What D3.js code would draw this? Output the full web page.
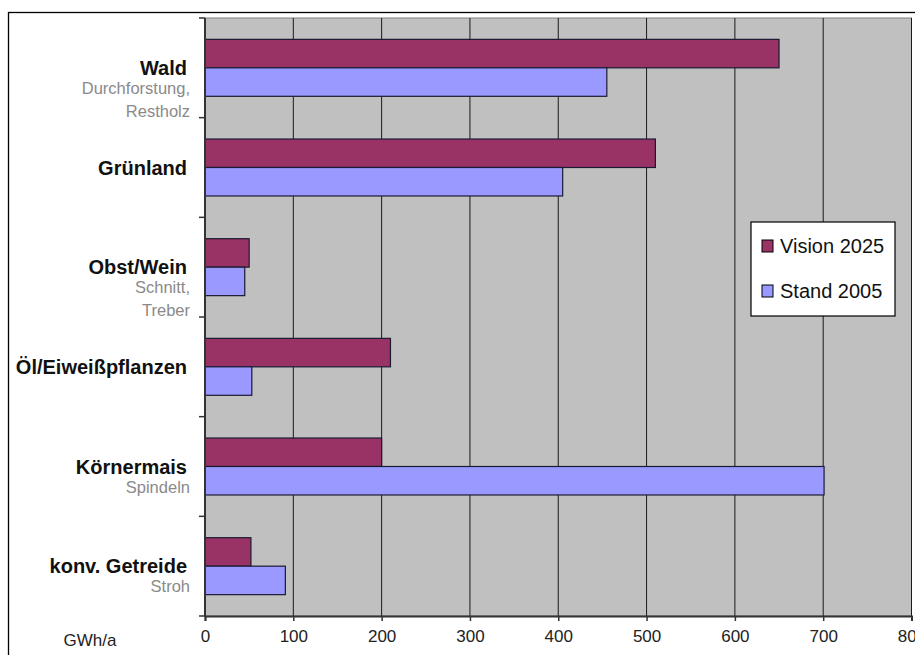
<!DOCTYPE html>
<html>
<head>
<meta charset="utf-8">
<script src="https://cdn.jsdelivr.net/npm/d3@7"></script>
<style>
  body { margin: 0; background: #fff; }
  text { font-family: "Liberation Sans", Arial, sans-serif; }
</style>
</head>
<body>
<div id="chart"></div>
<script>
// Daten (GWh/a)
const categories = ["Wald", "Grünland", "Obst/Wein", "Öl/Eiweißpflanzen", "Körnermais", "konv. Getreide"];
const subLabels = [["Durchforstung,", "Restholz"], [], ["Schnitt,", "Treber"], [], ["Spindeln"], ["Stroh"]];
const seriesNames = ["Vision 2025", "Stand 2005"];
const vision2025 = [650, 510, 50, 210, 200, 52];
const stand2005 = [455, 405, 45, 53, 701, 91];
const xTicks = [0, 100, 200, 300, 400, 500, 600, 700, 800];
const unitLabel = "GWh/a";

const colors = { "Vision 2025": "#993366", "Stand 2005": "#9999ff" };

const W = 915, H = 655;
const plot = { left: 205, top: 18, right: 911.5, bottom: 616 };

const svg = d3.select("#chart").append("svg")
    .attr("width", W)
    .attr("height", H);

// äusserer Rahmen
svg.append("rect")
    .attr("x", 8.5).attr("y", 12.5)
    .attr("width", W + 20).attr("height", H + 20)
    .attr("fill", "#fff")
    .attr("stroke", "#000")
    .attr("stroke-width", 1.3);

const x = d3.scaleLinear().domain([0, 800]).range([plot.left, plot.right]);
const y0 = d3.scaleBand().domain(categories).range([plot.top, plot.bottom]).padding(0);
const y1 = d3.scaleBand().domain(seriesNames).range([0, y0.bandwidth()])
    .paddingInner(0).paddingOuter(0.75);

// Hintergrund
svg.append("rect")
    .attr("x", plot.left).attr("y", plot.top)
    .attr("width", plot.right - plot.left)
    .attr("height", plot.bottom - plot.top)
    .attr("fill", "#c0c0c0")
    .attr("stroke", "#808080");

// Gitterlinien
svg.append("g")
    .selectAll("line")
    .data(xTicks.slice(1))
    .join("line")
    .attr("x1", d => x(d)).attr("x2", d => x(d))
    .attr("y1", plot.top).attr("y2", plot.bottom)
    .attr("stroke", "#1a1a1a")
    .attr("stroke-width", 1);

// Balken
const table = categories.map((c, i) => ({
    cat: c,
    values: [
        { key: "Vision 2025", value: vision2025[i] },
        { key: "Stand 2005", value: stand2005[i] }
    ]
}));

svg.append("g")
    .selectAll("g")
    .data(table)
    .join("g")
    .attr("transform", d => `translate(0,${y0(d.cat)})`)
    .selectAll("rect")
    .data(d => d.values)
    .join("rect")
    .attr("x", x(0))
    .attr("y", d => y1(d.key))
    .attr("width", d => x(d.value) - x(0))
    .attr("height", y1.bandwidth())
    .attr("fill", d => colors[d.key])
    .attr("stroke", "#1a1a33")
    .attr("stroke-width", 1.2);

// Achsen
const xAxis = d3.axisBottom(x).tickValues(xTicks).tickSize(5).tickPadding(9);
const gx = svg.append("g")
    .attr("transform", `translate(0,${plot.bottom})`)
    .call(xAxis);
gx.select(".domain").attr("stroke", "#333").attr("stroke-width", 2);
gx.selectAll(".tick line").attr("stroke", "#333").attr("stroke-width", 1.5);
gx.selectAll(".tick text")
    .attr("font-size", 17)
    .attr("fill", "#222")
    .style("font-family", "'Liberation Sans', Arial, sans-serif");

const yBounds = d3.range(categories.length + 1).map(i => plot.top + i * y0.step());
const gy = svg.append("g");
gy.append("line")
    .attr("x1", plot.left).attr("x2", plot.left)
    .attr("y1", plot.top).attr("y2", plot.bottom)
    .attr("stroke", "#333").attr("stroke-width", 2);
gy.selectAll("line.tick")
    .data(yBounds)
    .join("line")
    .attr("class", "tick")
    .attr("x1", plot.left - 6).attr("x2", plot.left)
    .attr("y1", d => d).attr("y2", d => d)
    .attr("stroke", "#333").attr("stroke-width", 1.5);

// Kategorie-Beschriftungen
const labels = svg.append("g");
categories.forEach((c, i) => {
    const cy = y0(c) + y0.bandwidth() / 2;
    labels.append("text")
        .attr("x", 187)
        .attr("y", cy + 7)
        .attr("text-anchor", "end")
        .attr("font-size", 20)
        .attr("font-weight", "bold")
        .attr("fill", "#111")
        .text(c);
    const offs = [26, 49];
    subLabels[i].forEach((s, j) => {
        labels.append("text")
            .attr("x", 190)
            .attr("y", cy + offs[j])
            .attr("text-anchor", "end")
            .attr("font-size", 16.5)
            .attr("fill", "#8a8a8a")
            .text(s);
    });
});

svg.append("text")
    .attr("x", 90)
    .attr("y", 646)
    .attr("text-anchor", "middle")
    .attr("font-size", 17)
    .attr("fill", "#222")
    .text(unitLabel);

// Legende
const legend = svg.append("g").attr("transform", "translate(751,222)");
legend.append("rect")
    .attr("x", 0).attr("y", 0)
    .attr("width", 144).attr("height", 94)
    .attr("fill", "#fff")
    .attr("stroke", "#000")
    .attr("stroke-width", 1.2);

seriesNames.forEach((s, i) => {
    const ly = 18 + i * 45;
    legend.append("rect")
        .attr("x", 11).attr("y", ly)
        .attr("width", 11).attr("height", 12)
        .attr("fill", colors[s])
        .attr("stroke", "#000")
        .attr("stroke-width", 1);
    legend.append("text")
        .attr("x", 29)
        .attr("y", ly + 13)
        .attr("font-size", 20)
        .attr("fill", "#111")
        .text(s);
});
</script>
</body>
</html>
